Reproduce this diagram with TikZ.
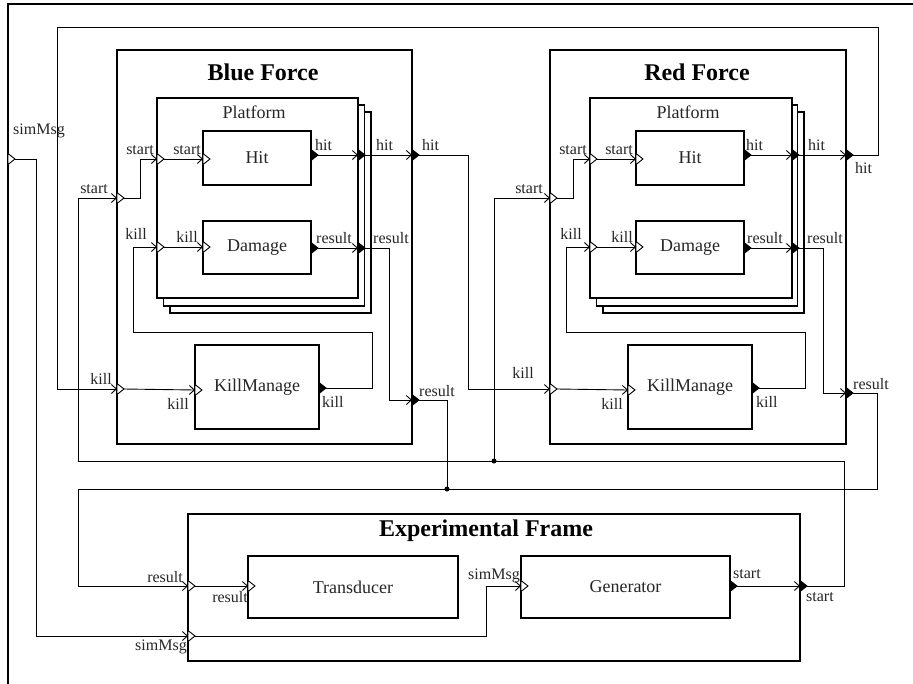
\documentclass[tikz,border=0pt]{standalone}
\usepackage{fontspec}
\setmainfont{Liberation Serif}
\usetikzlibrary{shapes.geometric, arrows.meta}

\begin{document}
\begin{tikzpicture}[
    x=1pt, y=-1pt,
    every node/.style={text=black!85, font=\fontsize{18}{20}\selectfont},
    coupled/.style={rectangle, draw=black, line width=2.6pt, fill=white, inner sep=0pt, outer sep=0pt, anchor=north west},
    platform/.style={coupled, line width=2pt},
    stackcopy/.style={coupled, line width=1.6pt},
    atomic/.style={coupled, line width=1.2pt},
    title/.style={font=\fontsize{24}{28}\selectfont\bfseries, text=black},
    subtitle/.style={font=\fontsize{18}{20}\selectfont},
    inport/.style={isosceles triangle, isosceles triangle stretches, draw=black, fill=white, line width=0.9pt, minimum width=11pt, minimum height=7pt, inner sep=0pt, outer sep=0pt, anchor=west},
    outport/.style={inport, fill=black},
    plab/.style={inner sep=0pt, font=\fontsize{16}{18}\selectfont},
    lab nw/.style={plab, anchor=base east, xshift=-4pt, yshift=5pt},
    lab sw/.style={plab, anchor=north east, xshift=-3pt, yshift=-5pt},
    lab ne/.style={plab, anchor=base west, xshift=4pt, yshift=5pt},
    lab se/.style={plab, anchor=north west, xshift=4pt, yshift=-6pt},
    wire/.style={draw=black, line width=0.9pt},
    link/.style={wire, -{Straight Barb[length=5pt, width=9pt]}},
    junction/.style={circle, fill=black, inner sep=0pt, minimum size=5pt}
]
    \useasboundingbox (0,0) rectangle (913,683);
    % top level frame
    \draw[line width=2.4pt] (8,700) |- (930,4);
    \node[inport, label={[lab ne, xshift=1pt, yshift=20pt]left:simMsg}] (top-sim) at (8,159) {};

    % Blue Force
    \node[coupled, minimum width=295pt, minimum height=394pt] (bf) at (117,50) {};
    \node[title] (bf-title) at (263,72) {Blue Force};
    \node[stackcopy, minimum width=201pt, minimum height=201pt] (bp3) at (170,112) {};
    \node[stackcopy, minimum width=201pt, minimum height=201pt] (bp2) at (163.5,105) {};
    \node[platform, minimum width=201pt, minimum height=200pt] (bp) at (157,98) {};
    \node[subtitle] (bp-title) at (254,112) {Platform};
    \node[atomic, minimum width=108pt, minimum height=54pt] (bh) at (203,131) {Hit};
    \node[atomic, minimum width=108pt, minimum height=53pt] (bd) at (203,221) {Damage};
    \node[atomic, minimum width=124pt, minimum height=84pt] (bk) at (195,345) {KillManage};

    \node[inport, label={[lab nw, xshift=-5pt]left:start}] (bf-start) at (117,198) {};
    \node[inport, label={[lab nw, xshift=-1pt]left:kill}] (bf-kill) at (117,389) {};
    \node[outport, label={[lab ne, xshift=6pt]left:hit}] (bf-hit) at (412,155) {};
    \node[outport, label={[lab ne, xshift=3pt, yshift=-1pt]left:result}] (bf-result) at (412,400) {};
    \node[inport, label={[lab nw, xshift=1pt]left:start}] (bp-start) at (157,159) {};
    \node[inport, label={[lab nw, xshift=-6pt, yshift=3pt]left:kill}] (bp-kill) at (157,247) {};
    \node[outport, label={[lab ne, xshift=14pt]left:hit}] (bp-hit) at (358,155) {};
    \node[outport, label={[lab ne, xshift=11pt]left:result}] (bp-result) at (358,248) {};
    \node[inport, label={[lab nw, xshift=2pt]left:start}] (bh-start) at (203,159) {};
    \node[outport, label={[lab ne]left:hit}] (bh-hit) at (311,155) {};
    \node[inport, label={[lab nw, xshift=-1pt]left:kill}] (bd-kill) at (203,247) {};
    \node[outport, label={[lab ne, xshift=1pt]left:result}] (bd-result) at (311,248) {};
    \node[inport, label={[lab sw, xshift=-3pt, yshift=-3pt]left:kill}] (bk-kill-in) at (195,390) {};
    \node[outport, label={[lab se, xshift=-1pt, yshift=-2pt]left:kill}] (bk-kill-out) at (319,388) {};

    % Red Force
    \node[coupled, minimum width=296pt, minimum height=394pt] (rf) at (550,50) {};
    \node[title] (rf-title) at (697,72) {Red Force};
    \node[stackcopy, minimum width=201pt, minimum height=201pt] (rp3) at (603,112) {};
    \node[stackcopy, minimum width=201pt, minimum height=201pt] (rp2) at (596.5,105) {};
    \node[platform, minimum width=202pt, minimum height=200pt] (rp) at (590,98) {};
    \node[subtitle] (rp-title) at (688,112) {Platform};
    \node[atomic, minimum width=108pt, minimum height=54pt] (rh) at (636,131) {Hit};
    \node[atomic, minimum width=108pt, minimum height=53pt] (rd) at (636,221) {Damage};
    \node[atomic, minimum width=124pt, minimum height=84pt] (rk) at (628,345) {KillManage};

    \node[inport, label={[lab nw, xshift=-3pt]left:start}] (rf-start) at (550,198) {};
    \node[inport, label={[lab nw, xshift=-12pt, yshift=6pt]left:kill}] (rf-kill) at (550,389) {};
    \node[outport, label={[lab se, xshift=5pt, yshift=-1pt]left:hit}] (rf-hit) at (846,155) {};
    \node[outport, label={[lab ne, xshift=3pt, yshift=-1pt]left:result}] (rf-result) at (846,393) {};
    \node[inport, label={[lab nw, xshift=1pt]left:start}] (rp-start) at (590,159) {};
    \node[inport, label={[lab nw, xshift=-4pt, yshift=3pt]left:kill}] (rp-kill) at (590,247) {};
    \node[outport, label={[lab ne, xshift=12pt]left:hit}] (rp-hit) at (792,155) {};
    \node[outport, label={[lab ne, xshift=11pt]left:result}] (rp-result) at (792,248) {};
    \node[inport, label={[lab nw, xshift=1pt]left:start}] (rh-start) at (636,159) {};
    \node[outport, label={[lab ne, xshift=-2pt]left:hit}] (rh-hit) at (744,155) {};
    \node[inport, label={[lab nw, xshift=1pt]left:kill}] (rd-kill) at (636,247) {};
    \node[outport, label={[lab ne, xshift=-1pt]left:result}] (rd-result) at (744,248) {};
    \node[inport, label={[lab sw, xshift=-2pt, yshift=-3pt]left:kill}] (rk-kill-in) at (628,390) {};
    \node[outport, label={[lab se, yshift=-2pt]left:kill}] (rk-kill-out) at (752,388) {};

    % Experimental Frame
    \node[coupled, minimum width=612pt, minimum height=147pt] (ef) at (188,514) {};
    \node[title] (ef-title) at (486,531) {Experimental Frame};
    \node[atomic, minimum width=210pt, minimum height=62pt] (tr) at (248,556) {Transducer};
    \node[atomic, minimum width=209pt, minimum height=62pt] (gen) at (521,556) {Generator};

    \node[inport, label={[lab nw, xshift=-1pt, yshift=-1pt]left:result}] (ef-result) at (188,586) {};
    \node[inport, label={[lab sw, xshift=2pt, yshift=1pt]left:simMsg}] (ef-sim) at (188,636) {};
    \node[outport, label={[lab se, xshift=2pt]left:start}] (ef-start) at (800,586) {};
    \node[inport, label={[lab sw, xshift=3pt]left:result}] (tr-result) at (248,586) {};
    \node[inport, label={[lab nw, xshift=3pt, yshift=2pt]left:simMsg}] (gen-sim) at (521,586) {};
    \node[outport, label={[lab ne, xshift=-1pt, yshift=3pt]left:start}] (gen-start) at (730,586) {};

    % couplings inside the forces
    \draw[link] (bf-start.east) -- ++(16,0) |- (bp-start.west);
    \draw[link] (bp-start.east) -- (bh-start.west);
    \draw[link] (bh-hit.east) -- (bp-hit.west);
    \draw[link] (bp-hit.east) -- (bf-hit.west);
    \draw[link] (bd-result.east) -- (bp-result.west);
    \draw[link] (bp-result.east) -- ++(24,0) |- (bf-result.west);
    \draw[link] (bf-kill.east) -- (bk-kill-in.west);
    \draw[link] (bk-kill-out.east) -- ++(46,0) |- ++(-239,-56) |- (bp-kill.west);
    \draw[link] (bp-kill.east) -- (bd-kill.west);

    \draw[link] (rf-start.east) -- ++(16,0) |- (rp-start.west);
    \draw[link] (rp-start.east) -- (rh-start.west);
    \draw[link] (rh-hit.east) -- (rp-hit.west);
    \draw[link] (rp-hit.east) -- (rf-hit.west);
    \draw[link] (rd-result.east) -- (rp-result.west);
    \draw[link] (rp-result.east) -- ++(24,0) |- (rf-result.west);
    \draw[link] (rf-kill.east) -- (rk-kill-in.west);
    \draw[link] (rk-kill-out.east) -- ++(46,0) |- ++(-239,-56) |- (rp-kill.west);
    \draw[link] (rp-kill.east) -- (rd-kill.west);

    % couplings at the top level
    \draw[link] (bf-hit.east) -- ++(49,0) |- (rf-kill.west);
    \draw[link] (rf-hit.east) -- ++(25,0) |- ++(-821,-128) |- (bf-kill.west);
    \draw[link] (ef-start.east) -- ++(37,0) |- ++(-766,-125) |- (bf-start.west);
    \node[junction] (j-start) at (494,461) {};
    \draw[link] (j-start.center) |- (rf-start.west);
    \draw[link] (rf-result.east) -- ++(24,0) |- ++(-799,96) |- (ef-result.west);
    \node[junction] (j-result) at (447,489) {};
    \draw[wire] (bf-result.east) -| (j-result.center);
    \draw[link] (top-sim.east) -- ++(21,0) |- (ef-sim.west);

    % couplings inside the frame
    \draw[link] (ef-result.east) -- (tr-result.west);
    \draw[link] (ef-sim.east) -- ++(291,0) |- (gen-sim.west);
    \draw[link] (gen-start.east) -- (ef-start.west);
\end{tikzpicture}
\end{document}
